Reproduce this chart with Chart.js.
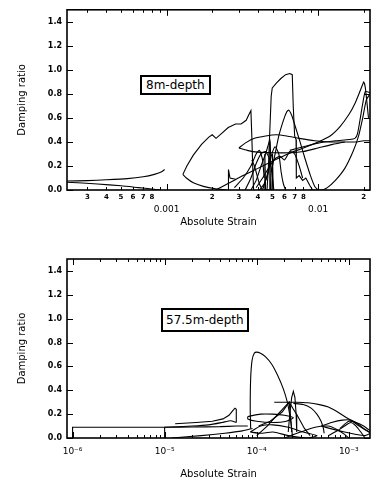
<!DOCTYPE html>
<html lang="en">
<head>
<meta charset="UTF-8">
<title>Damping ratio vs absolute strain</title>
<script src="https://cdn.jsdelivr.net/npm/chart.js"></script>
<style>
  body { margin: 0; background: #fff; width: 382px; height: 482px; overflow: hidden; font-family: 'DejaVu Sans', sans-serif; }
  .panel { position: absolute; left: 0; width: 382px; height: 241px; }
  .tag { position: absolute; border: 2px solid #000; background: #fff; color: #000; font-size: 12px; line-height: 14px; white-space: nowrap; }
</style>
</head>
<body>
<div class="panel" style="top:0">
  <canvas id="top" width="382" height="241"></canvas>
  <div class="tag" style="left:140px;top:75px;padding:1px 4px">8m-depth</div>
</div>
<div class="panel" style="top:241px">
  <canvas id="bottom" width="382" height="241"></canvas>
  <div class="tag" style="left:161px;top:67px;padding:3px 3px">57.5m-depth</div>
</div>
<script>
// ---- axis ticks ----
const yTicks = [0, 0.2, 0.4, 0.6, 0.8, 1.0, 1.2, 1.4];
const yLabels = ['0.0', '0.2', '0.4', '0.6', '0.8', '1.0', '1.2', '1.4'];

const topXTicks = [3e-4, 4e-4, 5e-4, 6e-4, 7e-4, 8e-4, 9e-4, 1e-3, 2e-3, 3e-3, 4e-3, 5e-3, 6e-3, 7e-3, 8e-3, 9e-3, 1e-2, 2e-2];
const topXLabels = ['3', '4', '5', '6', '7', '8', '', '0.001', '2', '3', '4', '5', '6', '7', '8', '', '0.01', '2'];

const botXTicks = [1e-6, 2e-6, 3e-6, 4e-6, 5e-6, 6e-6, 7e-6, 8e-6, 9e-6,
  1e-5, 2e-5, 3e-5, 4e-5, 5e-5, 6e-5, 7e-5, 8e-5, 9e-5,
  1e-4, 2e-4, 3e-4, 4e-4, 5e-4, 6e-4, 7e-4, 8e-4, 9e-4, 1e-3];
const botXLabels = ['10⁻⁶', '', '', '', '', '', '', '', '',
  '10⁻⁵', '', '', '', '', '', '', '', '',
  '10⁻⁴', '', '', '', '', '', '', '', '', '10⁻³'];

// ---- 8m-depth curves [strain, damping] ----
const top_tailUpper = [[2.2e-4,0.075],[3e-4,0.078],[4e-4,0.085],[5.5e-4,0.095],[7e-4,0.11],[8.3e-4,0.13],[9.2e-4,0.15],[9.7e-4,0.17]];
const top_tailLower = [[2.2e-4,0.065],[3.5e-4,0.05],[5e-4,0.035],[6.5e-4,0.02],[8e-4,0.008],[9e-4,0.0]];
const top_arc = [[1.28e-3,0.13],[1.36e-3,0.2],[1.5e-3,0.29],[1.7e-3,0.38],[1.9e-3,0.44],[2.0e-3,0.46],[2.12e-3,0.43],[2.3e-3,0.47],[2.55e-3,0.52],[2.85e-3,0.55],[3.1e-3,0.55],[3.35e-3,0.58],[3.5e-3,0.63],[3.6e-3,0.66],[3.65e-3,0.45],[3.7e-3,0.2],[3.75e-3,0.0]];
const top_arcLower = [[1.28e-3,0.13],[1.35e-3,0.1],[1.5e-3,0.06],[1.75e-3,0.03],[2.1e-3,0.01],[2.5e-3,0.0]];
const top_spike = [[2.55e-3,0.0],[2.56e-3,0.17],[2.62e-3,0.1],[2.85e-3,0.09]];
const top_peak = [[4.6e-3,0.0],[4.7e-3,0.2],[4.8e-3,0.5],[4.9e-3,0.78],[4.98e-3,0.85],[5.3e-3,0.89],[5.7e-3,0.93],[6.1e-3,0.96],[6.5e-3,0.97],[6.75e-3,0.96],[6.85e-3,0.7],[7.0e-3,0.45],[7.15e-3,0.42],[7.18e-3,0.1],[7.5e-3,0.12],[7.9e-3,0.08],[8.3e-3,0.1],[8.8e-3,0.04],[9.2e-3,0.0]];
const top_peak2 = [[4.9e-3,0.15],[5.2e-3,0.3],[5.5e-3,0.45],[5.9e-3,0.58],[6.2e-3,0.65],[6.4e-3,0.665],[6.7e-3,0.62],[7.1e-3,0.52],[7.6e-3,0.4],[8.2e-3,0.26],[8.9e-3,0.12],[9.5e-3,0.03],[1.0e-2,0.0]];
const top_ellipseUpper = [[3.0e-3,0.35],[3.3e-3,0.39],[3.8e-3,0.43],[4.5e-3,0.45],[5.3e-3,0.46],[6.2e-3,0.45],[7.5e-3,0.43],[9.5e-3,0.41],[1.2e-2,0.40],[1.5e-2,0.40],[1.8e-2,0.40],[2.0e-2,0.41],[2.2e-2,0.41]];
const top_ellipseLower = [[3.0e-3,0.35],[3.4e-3,0.33],[4.0e-3,0.315],[5e-3,0.31],[6.5e-3,0.31],[8e-3,0.32],[1.0e-2,0.35],[1.25e-2,0.38],[1.5e-2,0.40]];
const top_riseLong = [[2.1e-3,0.0],[2.6e-3,0.06],[3.2e-3,0.12],[4.0e-3,0.18],[5.0e-3,0.24],[6.3e-3,0.30],[8e-3,0.35],[1.0e-2,0.40],[1.2e-2,0.45],[1.4e-2,0.53],[1.6e-2,0.63],[1.75e-2,0.72],[1.9e-2,0.83],[1.97e-2,0.88],[2.0e-2,0.9],[2.05e-2,0.85],[2.15e-2,0.6]];
const top_riseRight = [[8.8e-3,0.0],[1.05e-2,0.0],[1.15e-2,0.02],[1.3e-2,0.08],[1.5e-2,0.18],[1.7e-2,0.32],[1.85e-2,0.45],[1.97e-2,0.6],[2.08e-2,0.75],[2.2e-2,0.8]];
const top_flat = [[6.5e-3,0.33],[8e-3,0.36],[1.0e-2,0.39],[1.3e-2,0.41],[1.6e-2,0.42],[1.75e-2,0.43],[1.82e-2,0.47],[1.9e-2,0.6],[1.97e-2,0.72],[2.05e-2,0.82],[2.2e-2,0.81]];
const top_loopA = [[3.3e-3,0.0],[3.6e-3,0.1],[3.9e-3,0.22],[4.2e-3,0.3],[4.5e-3,0.32],[4.8e-3,0.25],[5.0e-3,0.1],[5.1e-3,0.0]];
const top_loopB = [[3.6e-3,0.0],[3.9e-3,0.08],[4.2e-3,0.2],[4.5e-3,0.3],[4.7e-3,0.38],[4.8e-3,0.42],[4.85e-3,0.3],[4.7e-3,0.15],[4.4e-3,0.05],[4.1e-3,0.0]];
const top_loopC = [[4.3e-3,0.0],[4.6e-3,0.12],[4.9e-3,0.28],[5.2e-3,0.36],[5.5e-3,0.3],[5.7e-3,0.15],[5.9e-3,0.05],[6.1e-3,0.0]];
const top_loopD = [[3.9e-3,0.02],[4.3e-3,0.1],[4.8e-3,0.2],[5.2e-3,0.26],[5.6e-3,0.28],[6.0e-3,0.25],[6.5e-3,0.32],[7.0e-3,0.3],[7.5e-3,0.2],[7.9e-3,0.1]];
const top_bars = [[4.4e-3,0.0],[4.45e-3,0.3],[4.5e-3,0.0],[4.75e-3,0.0],[4.8e-3,0.4],[4.85e-3,0.0],[4.95e-3,0.0],[5.0e-3,0.3],[5.05e-3,0.0]];
const top_cross = [[2.8e-3,0.02],[3.2e-3,0.1],[3.6e-3,0.2],[3.9e-3,0.3],[4.1e-3,0.33],[4.3e-3,0.25],[4.4e-3,0.1]];
const top_drop = [[3.65e-3,0.25],[3.8e-3,0.2],[4.1e-3,0.05],[4.3e-3,0.0]];

// ---- 57.5m-depth curves [strain, damping] ----
const bot_rect = [[1.0e-6,0.0],[1.0e-6,0.09],[1e-5,0.09],[1e-5,0.0]];
const bot_base = [[1e-5,0.09],[2e-5,0.092],[4e-5,0.095],[6e-5,0.1],[8e-5,0.1]];
const bot_hornUpper = [[1.3e-5,0.12],[2.2e-5,0.13],[3.3e-5,0.14],[4.3e-5,0.16],[5.0e-5,0.19],[5.5e-5,0.23],[5.8e-5,0.25],[6.0e-5,0.24],[6.0e-5,0.13]];
const bot_hornLower = [[1.0e-5,0.09],[2e-5,0.1],[3e-5,0.11],[4.2e-5,0.13],[5.2e-5,0.145],[6.0e-5,0.13]];
const bot_rampLow = [[1.2e-5,0.0],[2.5e-5,0.02],[4.5e-5,0.04],[7e-5,0.06],[9e-5,0.08]];
const bot_lobe = [[8.6e-5,0.08],[8.5e-5,0.25],[8.6e-5,0.5],[8.9e-5,0.65],[9.4e-5,0.71],[1.0e-4,0.72],[1.1e-4,0.71],[1.25e-4,0.68],[1.45e-4,0.62],[1.7e-4,0.52],[1.95e-4,0.41],[2.15e-4,0.3],[2.3e-4,0.18],[2.4e-4,0.08],[2.45e-4,0.0]];
const bot_spike = [[2.2e-4,0.05],[2.3e-4,0.22],[2.4e-4,0.34],[2.5e-4,0.39],[2.6e-4,0.34],[2.68e-4,0.2],[2.72e-4,0.05]];
const bot_shelf = [[1.55e-4,0.3],[2.0e-4,0.3],[2.7e-4,0.3],[3.6e-4,0.295],[4.8e-4,0.28],[6e-4,0.26],[7.5e-4,0.22],[9e-4,0.18],[1.1e-3,0.14],[1.3e-3,0.1],[1.5e-3,0.07],[1.7e-3,0.05]];
const bot_arc = [[2.5e-4,0.29],[3.2e-4,0.28],[3.9e-4,0.25],[4.5e-4,0.2],[5.0e-4,0.14],[5.3e-4,0.08],[5.4e-4,0.04]];
const bot_ellipse = [[8e-5,0.18],[1.1e-4,0.2],[1.5e-4,0.2],[2.0e-4,0.19],[2.5e-4,0.17],[2.1e-4,0.14],[1.5e-4,0.13],[1.0e-4,0.14],[8e-5,0.16],[8e-5,0.18]];
const bot_starA = [[1.0e-4,0.02],[1.3e-4,0.1],[1.7e-4,0.2],[2.25e-4,0.3],[2.8e-4,0.18],[3.3e-4,0.08],[3.8e-4,0.02]];
const bot_starB = [[1.05e-4,0.1],[1.4e-4,0.14],[1.9e-4,0.22],[2.25e-4,0.3],[2.35e-4,0.15],[2.4e-4,0.05]];
const bot_loopsLow = [[8.5e-5,0.05],[1.1e-4,0.1],[1.5e-4,0.11],[2.2e-4,0.09],[3.2e-4,0.05],[4.5e-4,0.02],[3.5e-4,0.0],[2.2e-4,0.02],[1.5e-4,0.05],[1.1e-4,0.04],[8.5e-5,0.05]];
const bot_loopsMid = [[2.0e-4,0.0],[3.0e-4,0.05],[4.3e-4,0.09],[6e-4,0.1],[7.5e-4,0.07],[9e-4,0.03],[1.0e-3,0.0]];
const bot_loopRightA = [[5e-4,0.1],[6.5e-4,0.13],[8.5e-4,0.15],[1.05e-3,0.15],[1.25e-3,0.12],[1.45e-3,0.08],[1.7e-3,0.04],[1.5e-3,0.02],[1.2e-3,0.03],[9e-4,0.05],[7e-4,0.07],[5e-4,0.1]];
const bot_loopRightB = [[6e-4,0.02],[7.5e-4,0.06],[9e-4,0.1],[1.05e-3,0.13],[1.2e-3,0.1],[1.35e-3,0.05],[1.5e-3,0.0]];
const bot_loopRightC = [[8e-4,0.08],[1e-3,0.14],[1.2e-3,0.13],[1.45e-3,0.1],[1.65e-3,0.07],[1.75e-3,0.06]];

const topCurves = [top_tailUpper, top_tailLower, top_arc, top_arcLower, top_spike, top_peak, top_peak2,
  top_ellipseUpper, top_ellipseLower, top_riseLong, top_riseRight, top_flat,
  top_loopA, top_loopB, top_loopC, top_loopD, top_bars, top_cross, top_drop];
const botCurves = [bot_rect, bot_base, bot_hornUpper, bot_hornLower, bot_rampLow, bot_lobe, bot_spike,
  bot_shelf, bot_arc, bot_ellipse, bot_starA, bot_starB, bot_loopsLow, bot_loopsMid,
  bot_loopRightA, bot_loopRightB, bot_loopRightC];
// curves drawn with straight segments (corners / vertical drops)
const sharpCurves = [top_arc, top_spike, top_peak, top_bars, bot_rect, bot_hornUpper, bot_spike, bot_starA, bot_starB];

const FONT = "'DejaVu Sans', sans-serif";

function isDecade(v) {
  const l = Math.log10(v);
  return Math.abs(l - Math.round(l)) < 1e-6;
}

// frame + inward tick marks on all four sides
const framePlugin = {
  id: 'frame',
  afterDatasetsDraw(chart) {
    const { ctx, chartArea: a, scales: { x, y } } = chart;
    ctx.save();
    ctx.strokeStyle = '#000';
    ctx.lineWidth = 1;
    ctx.beginPath();
    x.ticks.forEach(t => {
      const px = Math.round(x.getPixelForValue(t.value)) + 0.5;
      const len = isDecade(t.value) ? 6 : 3;
      ctx.moveTo(px, a.bottom); ctx.lineTo(px, a.bottom - len);
      ctx.moveTo(px, a.top); ctx.lineTo(px, a.top + len);
    });
    y.ticks.forEach(t => {
      const py = Math.round(y.getPixelForValue(t.value)) + 0.5;
      ctx.moveTo(a.left, py); ctx.lineTo(a.left + 6, py);
      ctx.moveTo(a.right, py); ctx.lineTo(a.right - 6, py);
    });
    ctx.stroke();
    ctx.lineWidth = 1.6;
    ctx.strokeRect(a.left, a.top, a.right - a.left, a.bottom - a.top);
    ctx.restore();
  }
};

function makeChart(id, curves, o) {
  return new Chart(document.getElementById(id), {
    type: 'scatter',
    data: {
      datasets: curves.map(pts => ({
        data: pts.map(([x, y]) => ({ x, y })),
        showLine: true,
        borderColor: '#000',
        borderWidth: 1.1,
        pointRadius: 0,
        tension: sharpCurves.includes(pts) ? 0 : 0.2,
        fill: false
      }))
    },
    options: {
      responsive: false,
      animation: false,
      devicePixelRatio: 1,
      layout: { padding: { top: o.top, right: 12, left: 0, bottom: 0 } },
      plugins: { legend: { display: false }, tooltip: { enabled: false } },
      scales: {
        x: {
          type: 'logarithmic',
          min: o.xMin,
          max: o.xMax,
          afterBuildTicks: s => { s.ticks = o.xTicks.map(v => ({ value: v })); },
          afterFit: s => { s.height = o.xHeight; },
          grid: { display: false, drawTicks: false },
          border: { display: false },
          ticks: {
            autoSkip: false,
            maxRotation: 0,
            color: '#000',
            padding: o.xTickPad,
            font: o.xFont,
            callback: (v, i) => o.xLabel(i)
          },
          title: {
            display: true,
            text: 'Absolute Strain',
            color: '#000',
            font: { family: FONT, size: 10 },
            padding: { top: 0, bottom: o.titlePad }
          }
        },
        y: {
          min: 0,
          max: 1.5,
          afterBuildTicks: s => { s.ticks = yTicks.map(v => ({ value: v })); },
          afterFit: s => { s.width = 67; },
          grid: { display: false, drawTicks: false },
          border: { display: false },
          ticks: {
            color: '#000',
            padding: 5,
            font: { family: FONT, size: 8, weight: 'bold' },
            callback: (v, i) => yLabels[i]
          },
          title: {
            display: true,
            text: 'Damping ratio',
            color: '#000',
            font: { family: FONT, size: 10 },
            padding: { top: 16, bottom: 0 }
          }
        }
      }
    },
    plugins: [framePlugin]
  });
}

makeChart('top', topCurves, {
  top: 8,
  xMin: 2.2e-4,
  xMax: 2.2e-2,
  xTicks: topXTicks,
  xHeight: 51,
  xTickPad: 3,
  titlePad: 13,
  xFont: c => (c.tick && isDecade(c.tick.value))
    ? { family: FONT, size: 9 }
    : { family: FONT, size: 7, weight: 'bold' },
  xLabel: i => isDecade(topXTicks[i]) ? ['', topXLabels[i]] : topXLabels[i]
});

makeChart('bottom', botCurves, {
  top: 18,
  xMin: 8.7e-7,
  xMax: 1.7e-3,
  xTicks: botXTicks,
  xHeight: 44,
  xTickPad: 8,
  titlePad: 2,
  xFont: { family: FONT, size: 9 },
  xLabel: i => botXLabels[i]
});
</script>
</body>
</html>
